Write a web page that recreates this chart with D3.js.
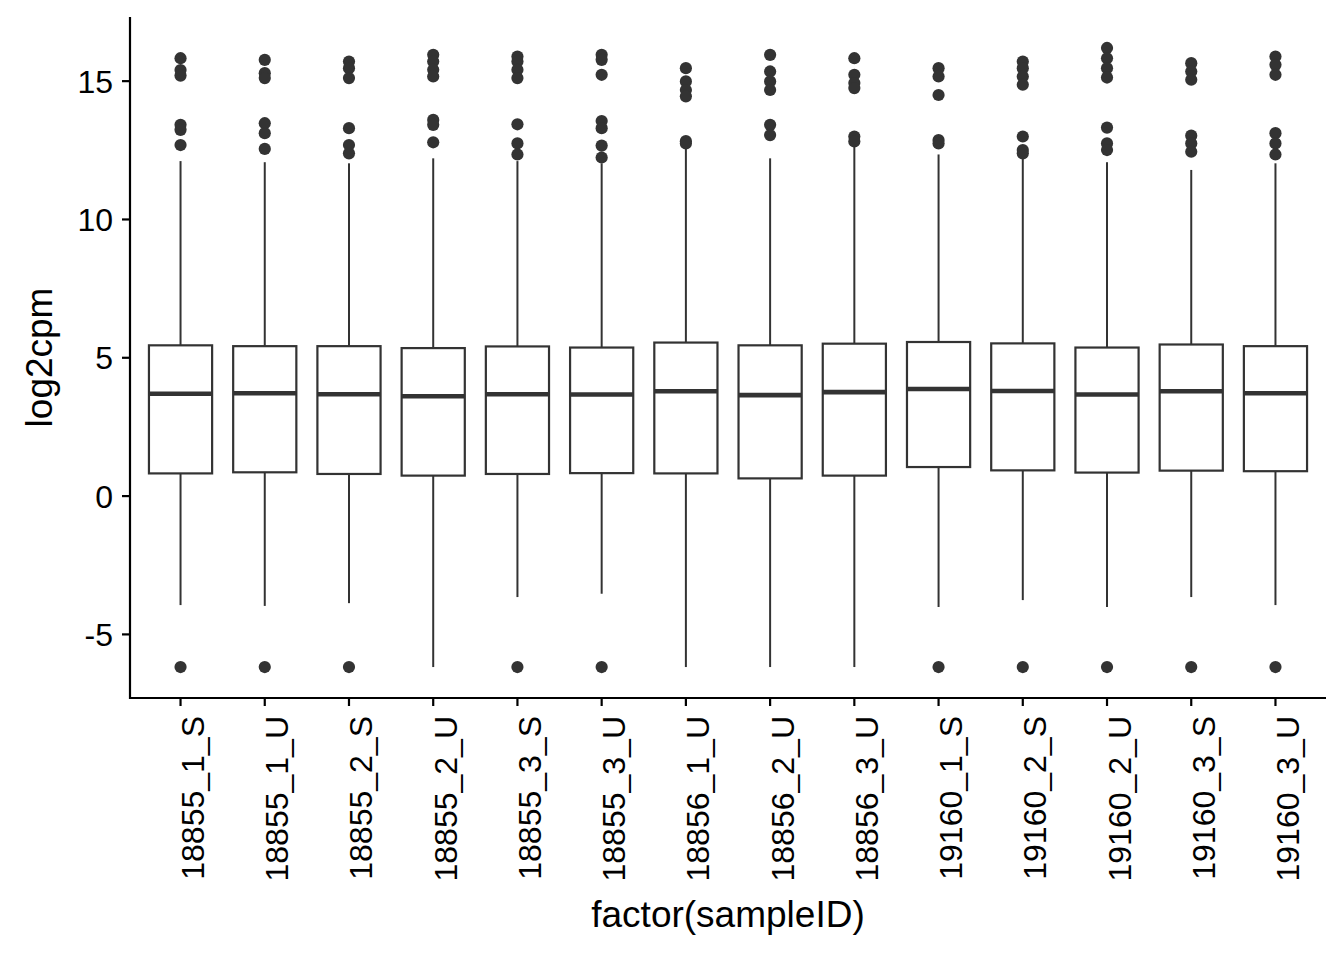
<!DOCTYPE html>
<html>
<head>
<meta charset="utf-8">
<script src="https://cdn.jsdelivr.net/npm/d3@7"></script>
<style>
  html, body { margin: 0; padding: 0; background: #fff; }
  svg { display: block; }
  text { font-family: "Liberation Sans", Arial, Helvetica, sans-serif; }
</style>
</head>
<body>
<svg id="chart" width="1344" height="960"></svg>
<script>
const samples = ["18855_1_S","18855_1_U","18855_2_S","18855_2_U","18855_3_S","18855_3_U",
  "18856_1_U","18856_2_U","18856_3_U","19160_1_S","19160_2_S","19160_2_U","19160_3_S","19160_3_U"];
const q1 =      [0.82, 0.86, 0.80, 0.74, 0.80, 0.83, 0.82, 0.64, 0.74, 1.05, 0.93, 0.85, 0.92, 0.90];
const medians = [3.70, 3.72, 3.68, 3.61, 3.68, 3.67, 3.79, 3.65, 3.76, 3.87, 3.80, 3.67, 3.79, 3.72];
const q3 =      [5.45, 5.42, 5.42, 5.35, 5.41, 5.37, 5.55, 5.45, 5.51, 5.57, 5.52, 5.37, 5.48, 5.42];
const whiskerLow  = [-3.94, -3.97, -3.87, -6.18, -3.65, -3.53, -6.18, -6.18, -6.18, -4.01, -3.76, -4.01, -3.65, -3.94];
const whiskerHigh = [12.11, 12.07, 12.03, 12.21, 12.11, 12.03, 12.57, 12.21, 12.64, 12.35, 12.28, 12.07, 11.79, 12.03];
const outliers = [
  [15.83, 15.40, 15.20, 13.42, 13.24, 12.69, -6.18],
  [15.77, 15.29, 15.11, 13.48, 13.12, 12.55, -6.18],
  [15.71, 15.47, 15.11, 13.30, 12.69, 12.39, -6.18],
  [15.95, 15.71, 15.41, 15.17, 13.60, 13.42, 12.79],
  [15.89, 15.71, 15.41, 15.11, 13.44, 12.75, 12.35, -6.18],
  [15.95, 15.77, 15.23, 13.56, 13.30, 12.67, 12.24, -6.18],
  [15.47, 14.99, 14.68, 14.45, 12.83, 12.75],
  [15.95, 15.35, 14.99, 14.68, 13.42, 13.05],
  [15.83, 15.23, 14.93, 14.75, 13.00, 12.82],
  [15.47, 15.17, 14.50, 12.87, 12.75, -6.18],
  [15.71, 15.47, 15.17, 14.87, 13.00, 12.51, 12.39, -6.18],
  [16.20, 15.83, 15.47, 15.13, 13.32, 12.75, 12.51, -6.18],
  [15.65, 15.35, 15.05, 13.03, 12.75, 12.45, -6.18],
  [15.89, 15.59, 15.23, 13.12, 12.75, 12.35, -6.18]
];
const yTicks = [-5, 0, 5, 10, 15];
const xTitle = "factor(sampleID)";
const yTitle = "log2cpm";

const svg = d3.select("#chart");
const pLeft = 130, pRight = 1326, pTop = 17, pBottom = 698;

const allVals = outliers.flat().concat(whiskerLow, whiskerHigh);
const lo = d3.min(allVals), hi = d3.max(allVals), pad = (hi - lo) * 0.05;
const y = d3.scaleLinear().domain([lo - pad, hi + pad]).range([pBottom, pTop]);
// ggplot discrete expansion: 0.6 units each side
const x = d3.scalePoint().domain(samples).range([pLeft, pRight]).padding(0.6);
const boxW = x.step() * 0.75;

const ink = "#333333";
const g = svg.append("g");

samples.forEach((s, i) => {
  const c = x(s);
  g.append("line").attr("x1", c).attr("x2", c).attr("y1", y(q3[i])).attr("y2", y(whiskerHigh[i]))
    .attr("stroke", ink).attr("stroke-width", 2);
  g.append("line").attr("x1", c).attr("x2", c).attr("y1", y(q1[i])).attr("y2", y(whiskerLow[i]))
    .attr("stroke", ink).attr("stroke-width", 2);
  g.append("rect").attr("x", c - boxW / 2).attr("width", boxW)
    .attr("y", y(q3[i])).attr("height", y(q1[i]) - y(q3[i]))
    .attr("fill", "#fff").attr("stroke", ink).attr("stroke-width", 2.2);
  g.append("line").attr("x1", c - boxW / 2).attr("x2", c + boxW / 2)
    .attr("y1", y(medians[i])).attr("y2", y(medians[i]))
    .attr("stroke", ink).attr("stroke-width", 4.6);
  g.selectAll(null).data(outliers[i]).enter().append("circle")
    .attr("cx", c).attr("cy", d => y(d)).attr("r", 6.1).attr("fill", ink);
});

const axisG = svg.append("g");
axisG.append("line").attr("x1", pLeft).attr("x2", pLeft).attr("y1", pTop).attr("y2", pBottom + 1)
  .attr("stroke", "#000").attr("stroke-width", 2.2);
axisG.append("line").attr("x1", pLeft - 1).attr("x2", pRight).attr("y1", pBottom).attr("y2", pBottom)
  .attr("stroke", "#000").attr("stroke-width", 2.2);

yTicks.forEach(t => {
  axisG.append("line").attr("x1", pLeft - 8).attr("x2", pLeft).attr("y1", y(t)).attr("y2", y(t))
    .attr("stroke", "#000").attr("stroke-width", 2.2);
  axisG.append("text").attr("x", pLeft - 17).attr("y", y(t)).attr("dy", "0.36em")
    .attr("text-anchor", "end").attr("font-size", 32).attr("fill", "#000").text(t);
});

samples.forEach(s => {
  const c = x(s);
  axisG.append("line").attr("x1", c).attr("x2", c).attr("y1", pBottom).attr("y2", pBottom + 8)
    .attr("stroke", "#000").attr("stroke-width", 2.2);
  axisG.append("text").attr("transform", `translate(${c + 23.5},${pBottom + 18}) rotate(-90)`)
    .attr("text-anchor", "end").attr("font-size", 32).attr("fill", "#000").text(s);
});

svg.append("text").attr("x", (pLeft + pRight) / 2).attr("y", 927)
  .attr("text-anchor", "middle").attr("font-size", 37).attr("fill", "#000").text(xTitle);
svg.append("text").attr("transform", `translate(52,${(pTop + pBottom) / 2}) rotate(-90)`)
  .attr("text-anchor", "middle").attr("font-size", 37).attr("fill", "#000").text(yTitle);
</script>
</body>
</html>
